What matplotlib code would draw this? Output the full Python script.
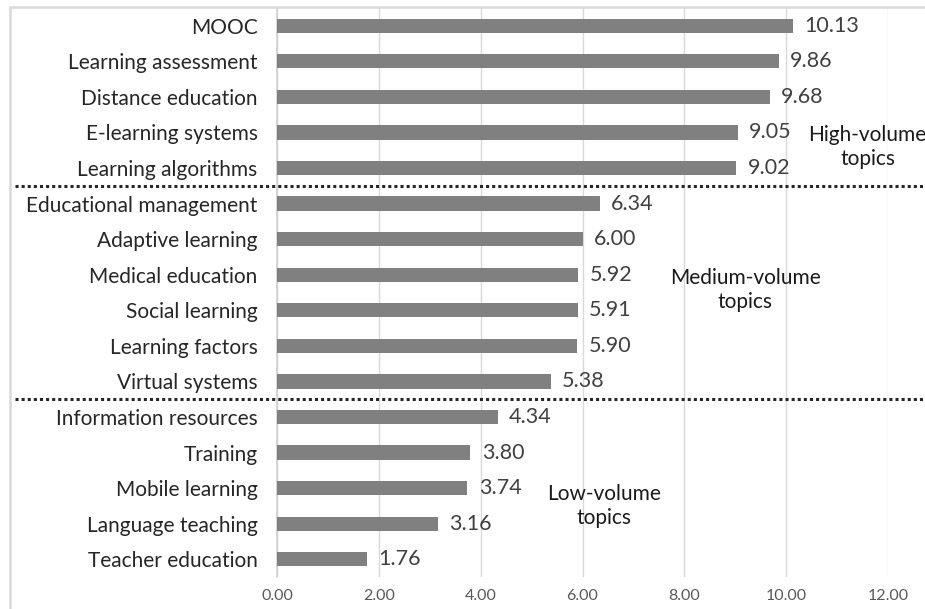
import matplotlib
matplotlib.use("Agg")
import matplotlib.pyplot as plt
from matplotlib.patches import Rectangle
from matplotlib.transforms import blended_transform_factory

categories = ["MOOC", "Learning assessment", "Distance education", "E-learning systems",
              "Learning algorithms", "Educational management", "Adaptive learning",
              "Medical education", "Social learning", "Learning factors", "Virtual systems",
              "Information resources", "Training", "Mobile learning", "Language teaching",
              "Teacher education"]
values = [10.13, 9.86, 9.68, 9.05, 9.02, 6.34, 6.00, 5.92, 5.91, 5.90, 5.38,
          4.34, 3.80, 3.74, 3.16, 1.76]
xticks = [0, 2, 4, 6, 8, 10, 12]
group_labels = ["High-volume\ntopics", "Medium-volume\ntopics", "Low-volume\ntopics"]
group_pos = [(11.6, 3.42), (9.2, 7.42), (6.42, 13.5)]
separators = [4.5, 10.5]

plt.rcParams['font.family'] = ['Lato', 'DejaVu Sans']

fig = plt.figure(figsize=(9.25, 6.09), dpi=100)
ax = fig.add_axes([277/925, 1-577/609, (888-277)/925, (577-8)/609])

y = list(range(len(categories)))
ax.barh(y, values, height=0.4, color="#808080", zorder=3)
ax.set_ylim(len(categories)-0.5, -0.5)
ax.set_xlim(0, 12)
ax.set_yticks(y)
ax.set_yticklabels(categories, fontsize=15, color="#262626")
ax.set_xticks(xticks)
ax.set_xticklabels([f"{t:.2f}" for t in xticks], fontsize=11.5, color="#595959")
ax.tick_params(axis='x', length=0, pad=9)
ax.tick_params(axis='y', length=0, pad=14)
ax.grid(axis='x', color="#d9d9d9", linewidth=1, zorder=0)
for s in ["top", "right", "bottom"]:
    ax.spines[s].set_visible(False)
ax.spines["left"].set_color("#d0d0d0")
ax.spines["left"].set_linewidth(1.2)

for yi, v in zip(y, values):
    ax.text(v + 0.22, yi, f"{v:.2f}", va="center", ha="left", fontsize=15.5, color="#404040")

for (gx, gy), lab in zip(group_pos, group_labels):
    ax.text(gx, gy, lab, ha="center", va="center", fontsize=15, color="#1a1a1a",
            linespacing=1.25, clip_on=False)

tr = blended_transform_factory(fig.transFigure, ax.transData)
for sy in separators:
    ax.plot([15/925, 1.0], [sy, sy], transform=tr, color="#262626", linestyle=(0, (1, 1)),
            linewidth=2.2, clip_on=False, zorder=4)

fig.patches.append(Rectangle((10/925, -0.1), 2, 1.1 - 7/609, transform=fig.transFigure,
                             fill=False, edgecolor="#d9d9d9", linewidth=1.8))

fig.savefig("out.png", dpi=100)
